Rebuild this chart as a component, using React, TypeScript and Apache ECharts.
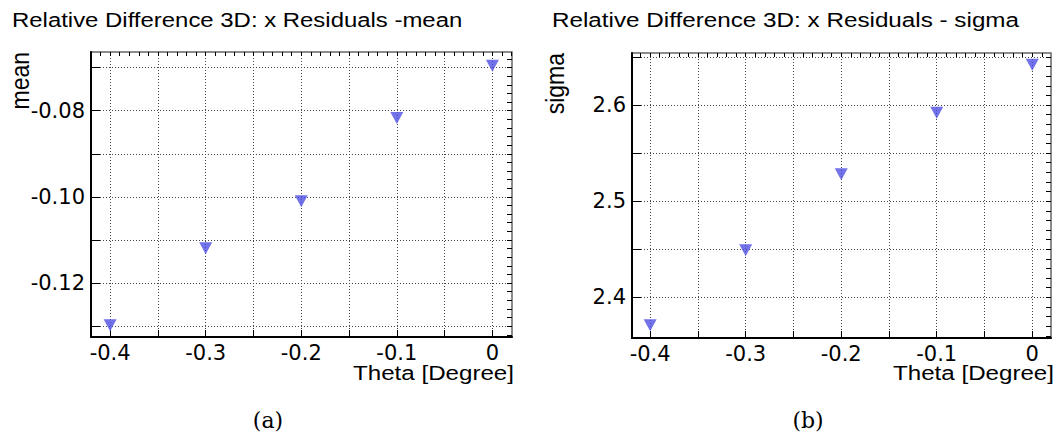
import React, { useEffect, useRef } from "react";
import * as echarts from "echarts";

// ---- data ----
const theta = [-0.4, -0.3, -0.2, -0.1, 0];
const meanValues = [-0.1298, -0.1119, -0.101, -0.0817, -0.0696];
const sigmaValues = [2.371, 2.449, 2.528, 2.592, 2.642];

const titleLeft = "Relative Difference 3D: x Residuals -mean";
const titleRight = "Relative Difference 3D: x Residuals - sigma";
const xName = "Theta [Degree]";
const yNameLeft = "mean";
const yNameRight = "sigma";

// tick values
const xLabels = [-0.4, -0.3, -0.2, -0.1, 0];
const xMajor = [-0.4, -0.35, -0.3, -0.25, -0.2, -0.15, -0.1, -0.05, 0];
const meanLabels = [-0.12, -0.1, -0.08];
const meanMajor = [-0.13, -0.12, -0.11, -0.1, -0.09, -0.08, -0.07];
const sigmaLabels = [2.4, 2.5, 2.6];
const sigmaMajor = [2.4, 2.45, 2.5, 2.55, 2.6, 2.65];

function steps(from: number, to: number, step: number): number[] {
  const out: number[] = [];
  const n = Math.round((to - from) / step);
  for (let i = 0; i <= n; i++) out.push(+(from + i * step).toFixed(6));
  return out;
}
const xMinor = steps(-0.42, 0.02, 0.01);
const meanMinor = steps(-0.132, -0.068, 0.002);
const sigmaMinor = steps(2.36, 2.65, 0.01);

const FONT = "'Liberation Sans', Arial, Helvetica, sans-serif";
const LABEL_FONT = "'DejaVu Sans', sans-serif";
const MARKER = "#4f4fe4";

export default function App() {
  const ref = useRef<HTMLDivElement>(null);
  useEffect(() => {
    const chart = echarts.init(ref.current!, null, { renderer: "svg" });

    const grids = [
      { left: 91, top: 52, width: 421, height: 285 },
      { left: 632, top: 53, width: 419, height: 285 },
    ];

    const gridLine = { show: true, lineStyle: { color: "#444", width: 1, type: [1, 2] } };
    const labelStyle = { color: "#000", fontSize: 21, fontFamily: LABEL_FONT };

    const xRanges = [
      [-0.42, 0.0205],
      [-0.419, 0.0196],
    ];
    const xAxis: any[] = [];
    [0, 1].forEach((g) => {
      xAxis.push({
        type: "value",
        gridIndex: g,
        min: xRanges[g][0],
        max: xRanges[g][1],
        axisLine: { show: true, onZero: false, lineStyle: { color: "#000", width: 2 } },
        axisTick: { show: true, inside: true, length: 7, customValues: xMajor, lineStyle: { color: "#000", width: 1 } },
        axisLabel: {
          ...labelStyle,
          margin: 5,
          customValues: xLabels,
          formatter: (v: number) => (Math.abs(v) < 1e-9 ? "0" : v.toFixed(1)),
        },
        splitLine: gridLine,
      });
      xAxis.push({
        type: "value",
        gridIndex: g,
        min: xRanges[g][0],
        max: xRanges[g][1],
        axisLine: { show: false, onZero: false },
        axisTick: { show: true, inside: true, length: 4, customValues: xMinor, lineStyle: { color: "#000", width: 1 } },
        axisLabel: { show: false },
        splitLine: { show: false },
      });
    });

    const yDefs = [
      { min: -0.1325, max: -0.0664, major: meanMajor, minor: meanMinor, labels: meanLabels, dec: 2 },
      { min: 2.3577, max: 2.6541, major: sigmaMajor, minor: sigmaMinor, labels: sigmaLabels, dec: 1 },
    ];
    const yAxis: any[] = [];
    yDefs.forEach((d, g) => {
      yAxis.push({
        type: "value",
        gridIndex: g,
        min: d.min,
        max: d.max,
        axisLine: { show: true, onZero: false, lineStyle: { color: "#000", width: 2 } },
        axisTick: { show: true, inside: true, length: 9, customValues: d.major, lineStyle: { color: "#000", width: 1 } },
        axisLabel: {
          ...labelStyle,
          margin: 6,
          customValues: d.labels,
          formatter: (v: number) => v.toFixed(d.dec),
        },
        splitLine: gridLine,
      });
      yAxis.push({
        type: "value",
        gridIndex: g,
        min: d.min,
        max: d.max,
        axisLine: { show: false, onZero: false },
        axisTick: { show: true, inside: true, length: 5, customValues: d.minor, lineStyle: { color: "#000", width: 1 } },
        axisLabel: { show: false },
        splitLine: { show: false },
      });
    });

    const marker = {
      type: "scatter",
      symbol: "triangle",
      symbolRotate: 180,
      symbolSize: [13, 12],
      itemStyle: { color: MARKER },
      silent: true,
    };

    const txt = (text: string, size: number, extra: any) => ({
      type: "text",
      ...extra,
      style: { text, fontSize: size, fontFamily: FONT, fill: "#000", ...(extra.style || {}) },
    });

    chart.setOption({
      animation: false,
      backgroundColor: "#fff",
      grid: grids.map((g) => ({
        ...g,
        show: true,
        borderColor: "#666",
        borderWidth: 1.5,
        backgroundColor: "transparent",
      })),
      xAxis,
      yAxis,
      series: [
        { ...marker, xAxisIndex: 0, yAxisIndex: 0, data: theta.map((t, i) => [t, meanValues[i]]) },
        { ...marker, xAxisIndex: 2, yAxisIndex: 2, data: theta.map((t, i) => [t, sigmaValues[i]]) },
      ],
      graphic: [
        txt(titleLeft, 21, { x: 12, y: 20, scaleX: 1.14, style: { align: "left", verticalAlign: "middle" } }),
        txt(titleRight, 21, { x: 552, y: 20, scaleX: 1.155, style: { align: "left", verticalAlign: "middle" } }),
        txt(yNameLeft, 23, {
          x: 20,
          y: 52,
          rotation: Math.PI / 2,
          scaleY: 1.1,
          style: { align: "right", verticalAlign: "middle" },
        }),
        txt(yNameRight, 23, {
          x: 555,
          y: 53,
          rotation: Math.PI / 2,
          scaleY: 1.1,
          style: { align: "right", verticalAlign: "middle" },
        }),
        txt(xName, 21, { x: 514, y: 373, scaleX: 1.15, style: { align: "right", verticalAlign: "middle" } }),
        txt(xName, 21, { x: 1054, y: 373, scaleX: 1.15, style: { align: "right", verticalAlign: "middle" } }),
        {
          type: "text",
          x: 268,
          y: 420,
          style: { text: "(a)", fontSize: 22, fontFamily: "'DejaVu Serif', serif", fill: "#000", align: "center", verticalAlign: "middle" },
        },
        {
          type: "text",
          x: 808,
          y: 420,
          style: { text: "(b)", fontSize: 22, fontFamily: "'DejaVu Serif', serif", fill: "#000", align: "center", verticalAlign: "middle" },
        },
      ],
    });
    return () => chart.dispose();
  }, []);
  return <div ref={ref} style={{ position: "fixed", left: 0, top: 0, width: 1058, height: 436 }} />;
}
